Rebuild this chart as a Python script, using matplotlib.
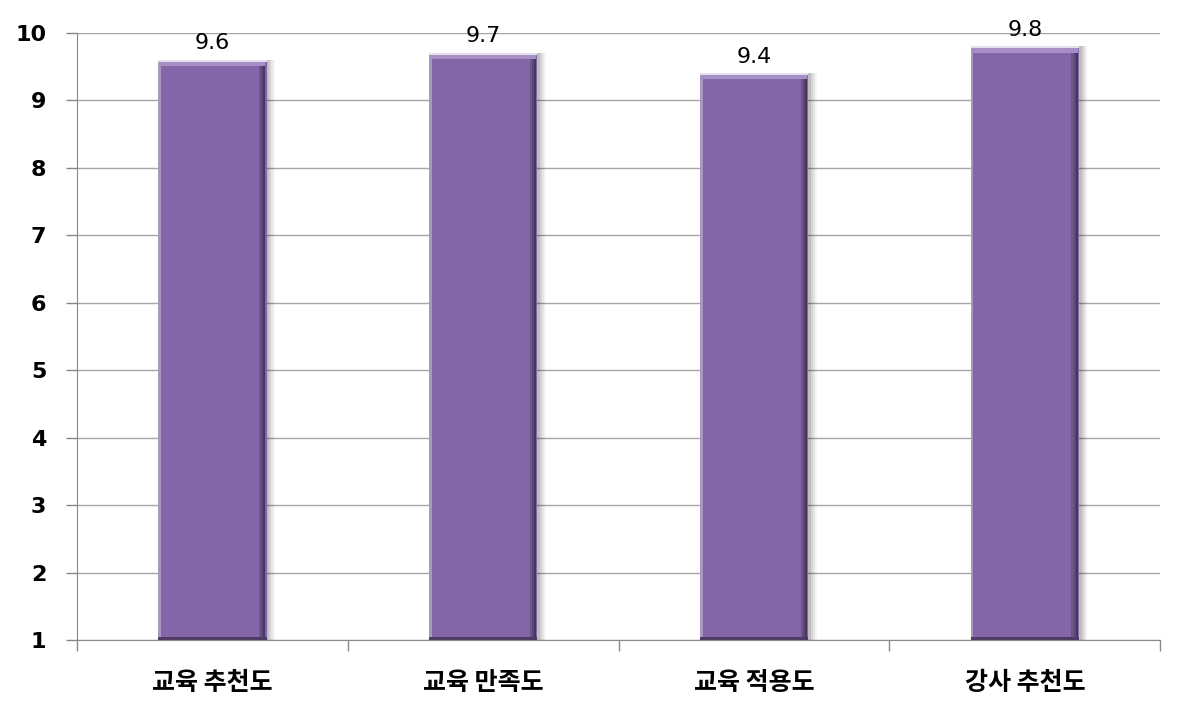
import matplotlib
matplotlib.use("Agg")
import matplotlib.pyplot as plt
import numpy as np
from matplotlib.ticker import FixedLocator

plt.rcParams['font.family'] = ['Noto Sans CJK KR', 'DejaVu Sans']

categories = ["교육 추천도", "교육 만족도", "교육 적용도", "강사 추천도"]
scores = [9.6, 9.7, 9.4, 9.8]
y_ticks = [1, 2, 3, 4, 5, 6, 7, 8, 9, 10]

BAR = "#8366a8"
BOTTOM = 1

fig = plt.figure(figsize=(11.84, 7.16), dpi=100)
ax = fig.add_axes([0.065, 0.106, 0.915, 0.848])

x = np.arange(len(categories))
heights = np.array(scores) - BOTTOM
width = 0.4

# soft drop shadow
for i, a in enumerate([0.10, 0.08, 0.06, 0.04]):
    ax.bar(x + 0.01 + i * 0.007, heights, width=width, bottom=BOTTOM,
           color="black", alpha=a, zorder=2, linewidth=0)

# main bar
ax.bar(x, heights, width=width, bottom=BOTTOM, color=BAR, zorder=3, linewidth=0)

# bevel: dark right edge (gradient), lighter left/top edge
for i, a in enumerate([0.25, 0.45, 0.7]):
    ax.bar(x + width / 2 - 0.024 + i * 0.008, heights, width=0.008, bottom=BOTTOM,
           color="#2e2240", alpha=a, zorder=4, linewidth=0)
ax.bar(x - width / 2 + 0.005, heights, width=0.01, bottom=BOTTOM,
       color="#a897c0", zorder=4, linewidth=0)
ax.bar(x, 0.03, width=width, bottom=np.array(scores) - 0.03,
       color="#e6e0ee", zorder=5, linewidth=0)
ax.bar(x, 0.06, width=width - 0.01, bottom=np.array(scores) - 0.09,
       color="#a58fc4", zorder=5, linewidth=0)
ax.bar(x, 0.05, width=width, bottom=BOTTOM,
       color="#4e3b66", zorder=5, linewidth=0)

for xi, v in zip(x, scores):
    ax.text(xi, v + 0.1, f"{v}", ha="center", va="bottom", fontsize=16,
            family=["DejaVu Sans"], zorder=6)

ax.set_xlim(-0.5, len(categories) - 0.5)
ax.set_ylim(1, 10)
ax.set_yticks(y_ticks)
ax.set_yticklabels([str(t) for t in y_ticks], fontsize=16, fontweight="bold",
                   family=["DejaVu Sans"])
ax.set_xticks(x)
ax.set_xticklabels(categories, fontsize=18, fontweight="bold")
ax.tick_params(axis="x", length=0, pad=22)
ax.xaxis.set_minor_locator(FixedLocator(np.arange(-0.5, len(categories), 1)))
ax.tick_params(axis="x", which="minor", length=8, color="#888888", width=1)
ax.tick_params(axis="y", length=8, color="#888888", width=1, pad=14)

ax.grid(axis="y", color="#a6a6a6", linewidth=1, zorder=0)
for s in ["top", "right"]:
    ax.spines[s].set_visible(False)
ax.spines["left"].set_color("#888888")
ax.spines["bottom"].set_color("#888888")

fig.savefig("out.png", dpi=100)
